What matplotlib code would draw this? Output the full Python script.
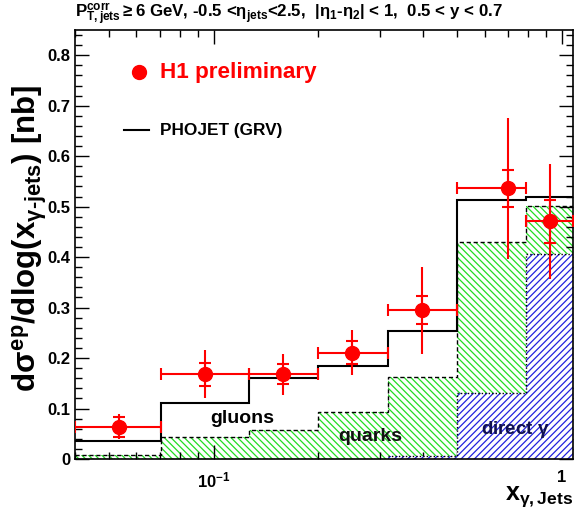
import numpy as np
import matplotlib
matplotlib.use('Agg')
import matplotlib.pyplot as plt
from matplotlib.ticker import LogLocator, MultipleLocator, FixedLocator, NullFormatter

plt.rcParams['font.family'] = 'Liberation Sans'
plt.rcParams['font.weight'] = 'bold'
plt.rcParams['mathtext.fontset'] = 'custom'
plt.rcParams['mathtext.rm'] = 'Liberation Sans:bold'
plt.rcParams['mathtext.bf'] = 'Liberation Sans:bold'
plt.rcParams['mathtext.it'] = 'Liberation Sans:bold'
plt.rcParams['hatch.linewidth'] = 0.9

# bin edges in x_gamma
edges = [0.04, 0.0708, 0.126, 0.1993, 0.316, 0.4995, 0.790, 1.077]

# PHOJET (GRV) total, quarks+direct, direct
phojet = [0.036, 0.111, 0.160, 0.185, 0.254, 0.514, 0.519]
quarks = [0.008, 0.044, 0.057, 0.094, 0.163, 0.429, 0.502]
direct = [0.0, 0.0, 0.0, 0.0, 0.005, 0.131, 0.407]

# H1 preliminary data
x_data = [0.0534, 0.0947, 0.158, 0.2506, 0.396, 0.703, 0.926]
y_data = [0.064, 0.168, 0.168, 0.211, 0.295, 0.536, 0.471]
err_stat = [0.020, 0.023, 0.020, 0.022, 0.027, 0.037, 0.043]
err_tot = [0.025, 0.048, 0.041, 0.044, 0.086, 0.140, 0.114]

edges = np.array(edges)
lo = edges[:-1]
hi = edges[1:]
xd = np.array(x_data)

fig = plt.figure(figsize=(5.75, 5.14), dpi=100)
ax = fig.add_axes([75/575, 1-459/514, 498/575, 429/514])
ax.set_xscale('log')

# quark hatch, then direct on top with white background
ax.bar(lo, quarks, width=hi-lo, align='edge', facecolor='none',
       edgecolor='#22dd22', hatch='\\\\\\\\\\', linewidth=0, zorder=1)
ax.bar(lo, direct, width=hi-lo, align='edge', facecolor='white',
       edgecolor='#2222dd', hatch='/////', linewidth=0, zorder=2)
ax.stairs(quarks, edges, color='black', linestyle=(0, (3, 2)), linewidth=1.0, baseline=None, zorder=3)
ax.stairs(direct, edges, color='black', linestyle=(0, (1, 1.5)), linewidth=1.0, baseline=None, zorder=3)
ax.stairs(phojet, edges, color='black', linewidth=1.5, baseline=None, zorder=4)

red = '#ff0000'
ax.errorbar(xd, y_data, xerr=[xd-lo, hi-xd], fmt='none', ecolor=red,
            elinewidth=1.5, capsize=4.3, capthick=1.5, zorder=5)
ax.errorbar(xd, y_data, yerr=err_tot, fmt='none', ecolor=red,
            elinewidth=1.5, capsize=0, zorder=5)
ax.errorbar(xd, y_data, yerr=err_stat, fmt='o', color=red, ms=10,
            elinewidth=1.5, capsize=4.3, capthick=1.5, zorder=6)

ax.set_xlim(edges[0], edges[-1])
ax.set_ylim(0, 0.85)

ax.xaxis.set_major_locator(FixedLocator([0.1, 1.0]))
ax.xaxis.set_minor_locator(LogLocator(base=10, subs=np.arange(2, 10)))
ax.xaxis.set_minor_formatter(NullFormatter())
ax.set_xticklabels([r'$10^{-1}$', '1'])
ax.yaxis.set_minor_locator(MultipleLocator(0.02))
ax.set_yticks([0, 0.1, 0.2, 0.3, 0.4, 0.5, 0.6, 0.7, 0.8])
ax.set_yticklabels(['0', '0.1', '0.2', '0.3', '0.4', '0.5', '0.6', '0.7', '0.8'])
ax.tick_params(which='both', direction='in', top=True, right=True, labelsize=12, width=1)
ax.tick_params(which='major', length=10)
ax.tick_params(which='minor', length=5)
ax.tick_params(axis='x', which='major', pad=8)
for s in ax.spines.values():
    s.set_linewidth(1.2)

fig.text(30/575, 1-238/514, 'd$\\sigma^{ep}$/dlog(x$_{\\gamma\u2010\\mathrm{jets}}$) [nb]',
         fontsize=22.5, rotation=90, ha='center', va='center')
fig.text(0.997, 0.01, r'x$_{\gamma,\mathrm{Jets}}$', fontsize=18, ha='right', va='bottom')

fig.text(75/575, 1-14/514, r'P$_{\mathrm{T,jets}}^{\mathrm{corr}}$$\geq$6 GeV, -0.5 <$\eta_{\mathrm{jets}}$<2.5,  |$\eta_1$-$\eta_2$| < 1,  0.5 < y < 0.7',
         fontsize=12.2, ha='left', va='center')

# legend
ax.plot([0.0612], [0.766], 'o', color=red, ms=10)
ax.text(0.0704, 0.766, 'H1 preliminary', color=red, fontsize=16.2, va='center')
ax.plot([0.0554, 0.0654], [0.651, 0.651], color='black', lw=1.5)
ax.text(0.0704, 0.651, 'PHOJET (GRV)', color='black', fontsize=12.4, va='center')

ax.text(0.1209, 0.081, 'gluons', fontsize=14, ha='center', va='center')
ax.text(0.281, 0.044, 'quarks', fontsize=14, ha='center', va='center', color='#111111')
ax.text(0.734, 0.059, r'direct $\gamma$', fontsize=13.5, ha='center', va='center', color='#101050')

fig.savefig('out.png', dpi=100)
